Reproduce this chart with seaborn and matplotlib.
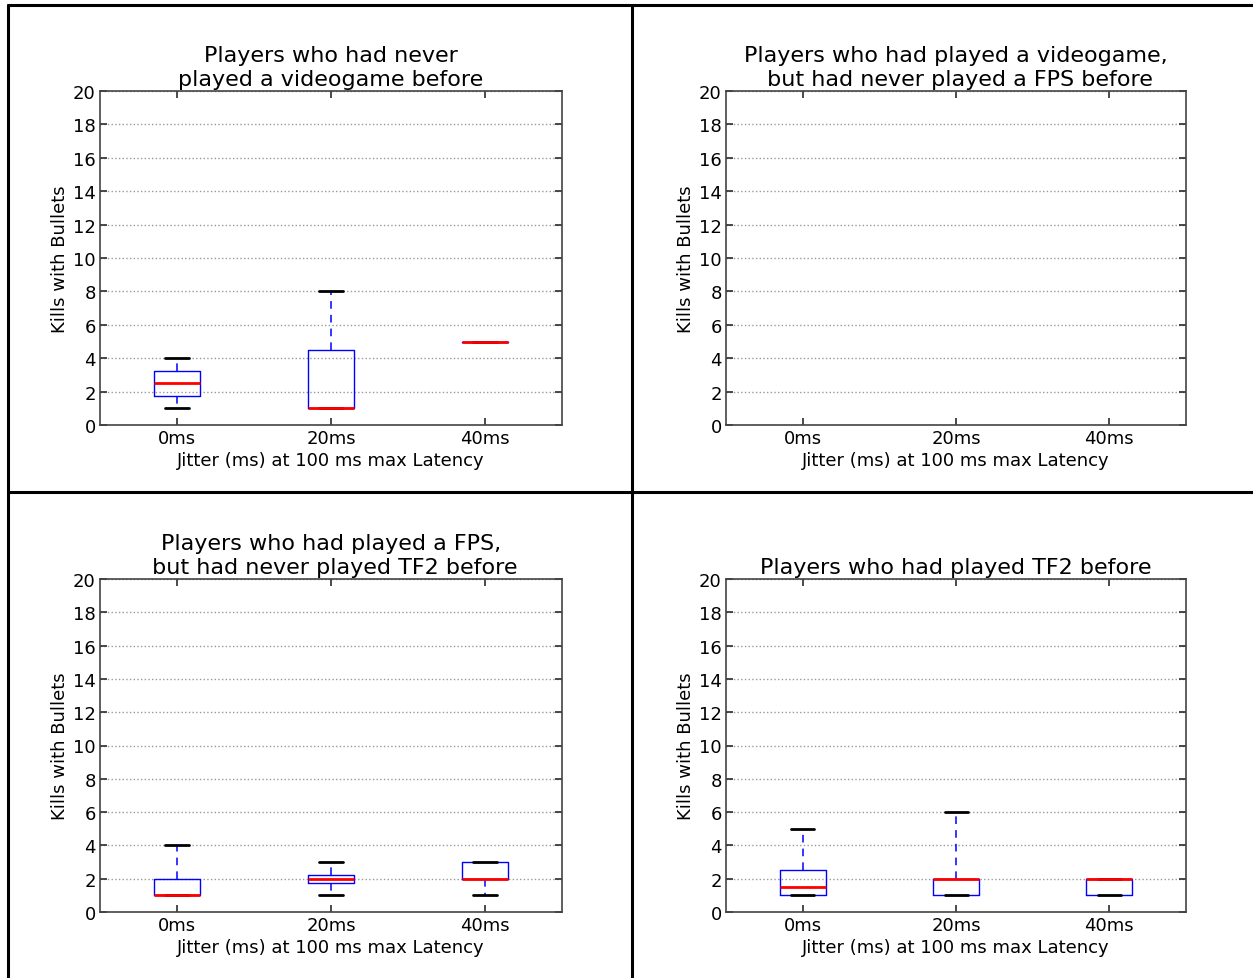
import pandas as pd
import seaborn as sns
import matplotlib.pyplot as plt
from matplotlib.lines import Line2D

# Kills with bullets per player, grouped by jitter level
jitter_labels = ['0ms', '20ms', '40ms']

never_game_0ms = [1, 2, 3, 4]
never_game_20ms = [1, 1, 8]
never_game_40ms = [5]

game_no_fps_0ms = []
game_no_fps_20ms = []
game_no_fps_40ms = []

fps_no_tf2_0ms = [1, 1, 1, 2, 4]
fps_no_tf2_20ms = [1, 2, 2, 3]
fps_no_tf2_40ms = [1, 2, 2, 3, 3]

tf2_0ms = [1, 1, 1, 1, 2, 2, 4, 5]
tf2_20ms = [1, 1, 2, 2, 6]
tf2_40ms = [1, 1, 2, 2, 2]

titles = [
    'Players who had never\nplayed a videogame before',
    'Players who had played a videogame,\n but had never played a FPS before',
    'Players who had played a FPS,\n but had never played TF2 before',
    'Players who had played TF2 before',
]
groups = [
    [never_game_0ms, never_game_20ms, never_game_40ms],
    [game_no_fps_0ms, game_no_fps_20ms, game_no_fps_40ms],
    [fps_no_tf2_0ms, fps_no_tf2_20ms, fps_no_tf2_40ms],
    [tf2_0ms, tf2_20ms, tf2_40ms],
]

sns.set_theme(style='white', rc={
    'xtick.direction': 'in', 'ytick.direction': 'in',
    'xtick.top': True, 'ytick.right': True,
    'xtick.bottom': True, 'ytick.left': True,
    'xtick.major.size': 5, 'ytick.major.size': 5,
    'axes.edgecolor': '#444444', 'axes.linewidth': 1.2,
    'text.color': 'black', 'axes.labelcolor': 'black',
    'xtick.color': 'black', 'ytick.color': 'black',
})
plt.rcParams['font.family'] = ['DejaVu Sans']

fig = plt.figure(figsize=(12.53, 9.79), dpi=100)
W, H = 1253, 979
# left, top, right, bottom in pixels for each panel
boxes_px = [(100, 92, 562, 426), (726, 92, 1186, 426),
            (100, 580, 562, 913), (726, 580, 1186, 913)]

for title, grp, (l, t, r, b) in zip(titles, groups, boxes_px):
    ax = fig.add_axes([l / W, 1 - b / H, (r - l) / W, (b - t) / H])
    rows = [(lab, v) for lab, vals in zip(jitter_labels, grp) for v in vals]
    df = pd.DataFrame(rows, columns=['jitter', 'kills'])
    if len(df):
        sns.boxplot(data=df, x='jitter', y='kills', order=jitter_labels, ax=ax,
                    fill=False, width=0.3, whis=(0, 100), color='blue',
                    linewidth=1, showfliers=False,
                    boxprops={'color': 'blue', 'linewidth': 1},
                    whiskerprops={'color': 'blue', 'linestyle': (0, (5, 4)), 'linewidth': 1.1},
                    capprops={'color': 'black', 'linewidth': 2},
                    medianprops={'color': 'red', 'linewidth': 2})
    ax.set_xticks(range(len(jitter_labels)))
    ax.set_xticklabels(jitter_labels)
    ax.set_xlim(-0.5, 2.5)
    ax.set_ylim(0, 20)
    ax.set_yticks(range(0, 21, 2))
    ax.yaxis.grid(True, linestyle=':', color='#999999', linewidth=1)
    ax.xaxis.grid(False)
    ax.tick_params(labelsize=13, colors='#333333', labelcolor='black', pad=3)
    ax.set_xlabel('Jitter (ms) at 100 ms max Latency', fontsize=13, labelpad=3)
    ax.set_ylabel('Kills with Bullets', fontsize=13, labelpad=3)
    ax.set_title(title, fontsize=16, pad=4.5, linespacing=1.25, color='black')

# table-like border lines
lw = 2.2
fig.add_artist(Line2D([8 / W, 8 / W], [0, 1 - 6 / H], color='black', lw=lw))
fig.add_artist(Line2D([8 / W, 1], [1 - 6 / H, 1 - 6 / H], color='black', lw=lw))
fig.add_artist(Line2D([632 / W, 632 / W], [0, 1 - 6 / H], color='black', lw=lw))
fig.add_artist(Line2D([8 / W, 1], [1 - 493 / H, 1 - 493 / H], color='black', lw=lw))

fig.savefig('out.png', dpi=100)
